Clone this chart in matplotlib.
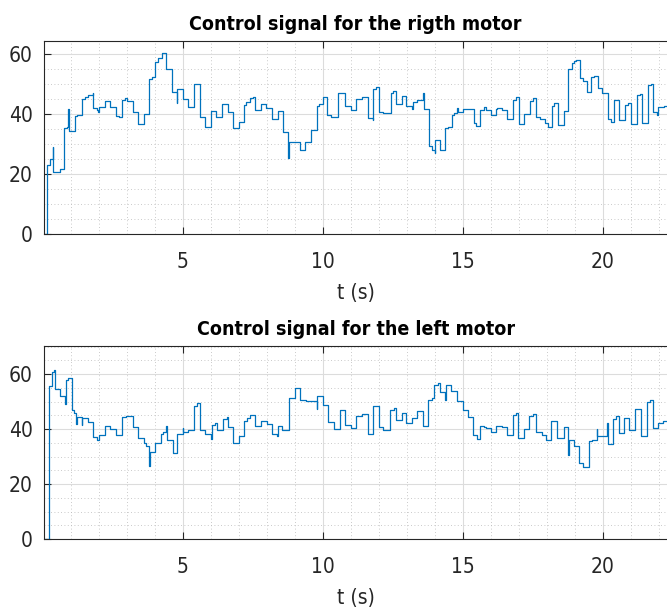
import numpy as np
import matplotlib.pyplot as plt
from matplotlib.ticker import MultipleLocator

plt.rcParams['font.family'] = ['DejaVu Sans']
plt.rcParams['font.stretch'] = 'condensed'

# right motor: step change times (s) and held values
t_right = [0.00, 0.17, 0.26, 0.36, 0.38, 0.60, 0.77, 0.86, 0.92, 0.95,
           1.15, 1.24, 1.39, 1.51, 1.63, 1.79, 1.81, 1.93, 1.98, 2.02,
           2.23, 2.40, 2.62, 2.72, 2.82, 2.94, 3.02, 3.21, 3.39, 3.60,
           3.81, 3.90, 4.01, 4.13, 4.25, 4.40, 4.61, 4.79, 4.81, 5.00,
           5.20, 5.40, 5.60, 5.80, 6.00, 6.19, 6.39, 6.61, 6.81, 7.01,
           7.19, 7.26, 7.40, 7.50, 7.58, 7.79, 7.98, 8.18, 8.42, 8.57,
           8.77, 8.80, 8.95, 9.19, 9.37, 9.57, 9.79, 9.88, 10.02, 10.16,
           10.30, 10.56, 10.80, 11.00, 11.20, 11.40, 11.60, 11.78, 11.81,
           11.90, 12.00, 12.17, 12.43, 12.52, 12.62, 12.82, 12.96, 13.18, 13.21,
           13.38, 13.57, 13.60, 13.80, 13.90, 14.00, 14.02, 14.19, 14.37, 14.49,
           14.61, 14.70, 14.78, 14.82, 15.00, 15.20, 15.40, 15.48, 15.60, 15.77,
           15.83, 16.00, 16.19, 16.24, 16.39, 16.59, 16.81, 16.90, 17.02, 17.19,
           17.40, 17.50, 17.60, 17.76, 17.94, 18.06, 18.18, 18.26, 18.42, 18.62,
           18.77, 18.89, 18.98, 19.05, 19.19, 19.29, 19.43, 19.58, 19.70, 19.82,
           19.99, 20.20, 20.30, 20.41, 20.58, 20.80, 20.89, 21.01, 21.21, 21.33,
           21.41, 21.61, 21.73, 21.81, 21.93, 21.99, 22.20, 22.80]
u_right = [0.0, 23.0, 25.0, 29.0, 20.5, 21.5, 35.4, 35.8, 41.6, 34.4,
           39.3, 39.8, 44.9, 45.8, 46.4, 47.1, 41.9, 41.3, 40.8, 42.4,
           44.3, 42.2, 39.3, 38.9, 44.7, 45.2, 44.4, 40.8, 36.6, 40.0,
           51.6, 52.4, 57.4, 58.6, 60.2, 54.9, 47.4, 43.8, 48.2, 44.9,
           42.2, 50.0, 38.9, 35.8, 41.0, 39.1, 43.3, 40.8, 35.2, 37.4,
           43.0, 44.1, 45.2, 45.6, 41.3, 43.3, 41.9, 38.2, 41.1, 34.1,
           25.2, 30.8, 30.6, 28.0, 30.8, 34.7, 42.7, 43.3, 45.8, 39.7,
           39.1, 46.9, 42.5, 41.3, 44.9, 45.8, 38.6, 38.0, 48.2,
           48.9, 40.8, 40.2, 46.9, 47.8, 43.3, 46.0, 42.7, 41.6, 44.1,
           44.5, 46.9, 41.6, 29.3, 28.0, 26.9, 31.3, 28.0, 35.2, 35.8,
           39.5, 40.2, 41.9, 40.8, 41.6, 41.7, 36.9, 36.1, 41.3, 42.4,
           41.3, 39.7, 41.6, 41.9, 41.3, 38.2, 44.7, 45.6, 36.7, 40.0,
           44.4, 45.4, 39.1, 38.2, 36.9, 35.8, 42.7, 43.6, 36.3, 41.0,
           54.9, 56.9, 57.8, 58.0, 51.9, 51.1, 47.4, 52.2, 52.7, 48.6,
           46.9, 38.2, 37.4, 44.7, 38.0, 43.0, 43.6, 36.7, 46.3, 46.6,
           36.9, 49.7, 50.1, 40.8, 39.7, 42.4, 42.8, 42.8]

# left motor: step change times (s) and held values
t_left = [0.00, 0.21, 0.32, 0.40, 0.43, 0.62, 0.79, 0.83, 0.92, 1.04,
          1.12, 1.19, 1.21, 1.40, 1.42, 1.61, 1.81, 1.93, 2.02, 2.23,
          2.40, 2.62, 2.82, 2.98, 3.21, 3.42, 3.62, 3.70, 3.81, 3.83,
          4.01, 4.21, 4.30, 4.40, 4.43, 4.64, 4.81, 5.00, 5.02, 5.20,
          5.40, 5.50, 5.62, 5.80, 6.00, 6.04, 6.15, 6.21, 6.43, 6.57,
          6.63, 6.81, 7.02, 7.19, 7.28, 7.40, 7.58, 7.79, 8.00, 8.20,
          8.38, 8.42, 8.55, 8.81, 9.00, 9.19, 9.40, 9.80, 9.81, 10.00,
          10.20, 10.40, 10.60, 10.80, 11.00, 11.20, 11.40, 11.60, 11.81, 12.00,
          12.17, 12.40, 12.55, 12.61, 12.82, 12.98, 13.18, 13.38, 13.57, 13.77,
          13.89, 13.99, 14.10, 14.19, 14.37, 14.39, 14.59, 14.80, 15.00, 15.20,
          15.38, 15.50, 15.60, 15.77, 15.83, 16.00, 16.19, 16.39, 16.59, 16.78,
          16.90, 16.99, 17.19, 17.38, 17.50, 17.61, 17.82, 17.99, 18.17, 18.36,
          18.60, 18.77, 18.79, 18.97, 19.16, 19.28, 19.51, 19.60, 19.78, 19.80,
          19.96, 20.14, 20.18, 20.38, 20.46, 20.58, 20.77, 20.94, 21.15, 21.37,
          21.57, 21.69, 21.81, 21.96, 22.17, 22.80]
u_left = [0.0, 55.5, 60.6, 61.3, 54.5, 51.9, 49.0, 57.9, 58.5, 46.8,
          45.8, 42.0, 44.4, 41.6, 44.0, 42.4, 37.0, 36.1, 37.9, 41.0,
          40.0, 37.9, 44.4, 44.8, 40.7, 36.7, 34.9, 33.7, 26.4, 31.5,
          34.9, 38.3, 38.8, 41.2, 36.1, 31.3, 38.2, 40.4, 39.1, 39.5,
          48.2, 49.4, 39.5, 38.3, 36.4, 41.6, 42.2, 39.5, 43.8, 44.4,
          40.7, 35.1, 37.6, 43.1, 44.0, 45.2, 41.2, 43.1, 41.9, 38.3,
          37.6, 41.0, 39.7, 51.3, 54.9, 50.7, 50.1, 47.3, 52.1, 48.8,
          42.4, 40.0, 46.8, 41.6, 40.4, 44.6, 45.6, 38.3, 48.5, 40.7,
          39.7, 46.8, 47.6, 43.4, 46.0, 42.2, 44.0, 46.4, 41.2, 50.7,
          51.3, 56.1, 56.7, 53.3, 50.7, 56.1, 54.0, 50.3, 47.0, 44.4,
          37.7, 36.4, 41.2, 40.9, 40.4, 39.1, 41.2, 40.7, 37.9, 45.2,
          45.8, 36.7, 40.0, 44.8, 45.6, 39.1, 37.9, 36.1, 43.1, 36.7,
          40.7, 30.7, 36.1, 33.9, 27.6, 26.2, 35.5, 36.1, 40.0, 37.3,
          37.5, 42.2, 34.7, 43.6, 44.6, 38.6, 44.0, 39.8, 47.3, 37.3,
          49.7, 50.4, 40.4, 42.2, 42.9, 42.9]

W, H = 667, 613
fig = plt.figure(figsize=(W / 100, H / 100), dpi=100)

def add_panel(px_top, px_bottom, ymax, t, u, title):
    left = 44
    right = 680
    ax = fig.add_axes([left / W, (H - px_bottom) / H, (right - left) / W, (px_bottom - px_top) / H])
    ax.step(t, u, where='post', color='#0072BD', lw=0.9)
    ax.set_xlim(0.046, 0.046 + (right - left) / 28.0)
    ax.set_ylim(0, ymax)
    ax.set_xticks([5, 10, 15, 20])
    ax.set_yticks([0, 20, 40, 60])
    ax.xaxis.set_minor_locator(MultipleLocator(1))
    ax.yaxis.set_minor_locator(MultipleLocator(5))
    ax.grid(True, which='major', color='#dcdcdc', lw=0.8)
    ax.grid(True, which='minor', color='#b8b8b8', lw=0.6, linestyle=(0, (1, 3)))
    ax.set_axisbelow(True)
    ax.tick_params(which='major', direction='in', length=5, width=0.8,
                   top=True, right=False, labelsize=15, colors='#262626')
    ax.tick_params(axis='x', which='major', pad=13)
    ax.tick_params(axis='y', which='major', pad=8)
    ax.tick_params(which='minor', length=0)
    for s in ax.spines.values():
        s.set_color('#262626')
        s.set_linewidth(0.8)
    ax.set_xlabel('t (s)', fontsize=15, color='#262626', labelpad=8, x=0.49)
    ax.set_title(title, fontsize=14, fontweight='bold', pad=8, x=0.49)
    return ax

add_panel(41, 234, 64.3, t_right, u_right, 'Control signal for the rigth motor')
add_panel(346, 539, 70.2, t_left, u_left, 'Control signal for the left motor')

fig.savefig('out.png', dpi=100)
